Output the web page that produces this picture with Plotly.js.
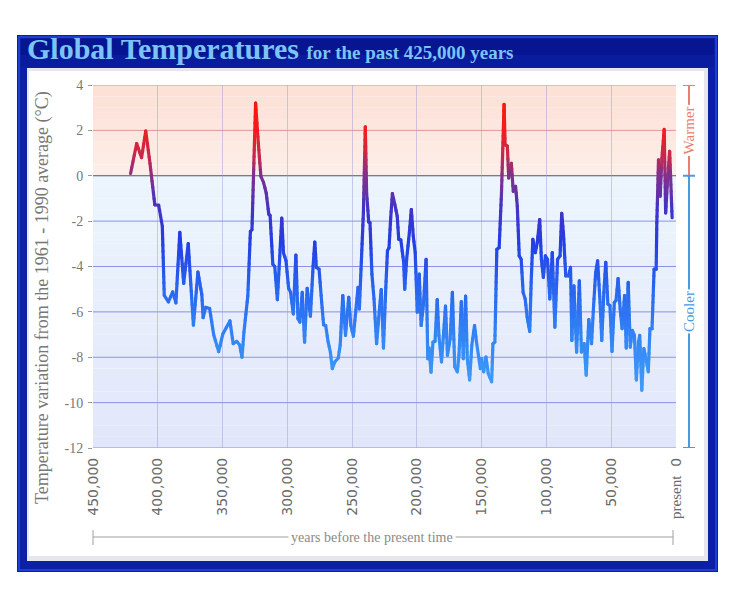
<!DOCTYPE html>
<html>
<head>
<meta charset="utf-8">
<script src="https://cdn.plot.ly/plotly-3.0.1.min.js"></script>
<style>
html,body{margin:0;padding:0;background:#ffffff;}
#chart{width:734px;height:589px;}
.scatterlayer .js-line{stroke-linecap:round;stroke-linejoin:round;}
</style>
</head>
<body>
<div id="chart"></div>
<script>
// ---- data (years before present, temperature anomaly °C) ----
const years = [
421000,416300,412500,409300,406000,402300,399300,396500,395000,391800,388500,386000,383000,380000,376500,372500,369000,366000,365000,363000,360000,356800,353000,349800,344300,341800,339000,336800,335000,333500,330500,328500,327300,324500,
322400,320400,318400,316300,314300,313300,311200,309700,307700,306100,304300,303000,301000,299000,297500,295400,293400,291800,290300,288500,286700,284700,282200,280100,278800,277600,275500,273500,272000,270400,268600,266800,265300,263300,260700,259200,257200,255100,252600,251000,249000,247500,245400,244400,242900,241300,239800,238800,237200,236200,234700,233100,231100,229100,227500,225800,224000,222700,221500,220200,218900,
217000,215200,214000,212400,210200,209400,207900,205800,204300,202800,201300,199700,198200,196700,194900,192900,191600,190600,189100,187600,186000,184300,183000,181000,177900,176400,174300,172600,170800,168800,167500,165700,164200,162400,161100,159300,157600,155500,154000,152500,151000,150000,148400,146700,144900,142300,141300,139800,138300,136500,134700,132700,131900,130200,129100,127100,125600,123800,122500,121000,119500,118000,116400,114900,112900,
111800,110500,108600,107100,105200,103900,102400,100800,99200,97400,95500,93500,91400,89500,88200,86900,85100,83000,81400,80400,78800,76700,74600,73000,70900,69300,67300,65200,63600,62000,60500,58600,57300,55700,54200,52600,51000,49400,47600,46300,44700,43100,41600,39700,38400,36900,35300,33700,32100,30600,29000,28000,26400,24800,23200,21400,20100,18500,16900,15300,14800,13500,12200,10900,9100,8000,6500,4900,3000
];
const temps = [
0.1,1.42,0.8,1.97,0.54,-1.28,-1.3,-2.23,-5.27,-5.56,-5.12,-5.6,-2.5,-4.74,-2.99,-6.58,-4.25,-5.24,-6.25,-5.8,-5.85,-7.02,-7.75,-6.98,-6.4,-7.4,-7.3,-7.46,-8.0,-6.9,-5.3,-2.45,-2.38,3.2,
1.43,-0.03,-0.29,-0.76,-1.7,-1.75,-3.9,-4.0,-5.46,-3.82,-1.87,-3.39,-3.75,-4.96,-5.14,-6.09,-3.5,-6.3,-6.45,-5.14,-7.33,-4.96,-6.19,-3.97,-2.92,-4.04,-4.12,-5.58,-6.57,-6.6,-7.3,-7.77,-8.5,-8.2,-8.03,-7.47,-5.28,-7.04,-5.36,-6.6,-7.07,-6.16,-4.92,-5.87,-3.82,-1.64,2.16,-0.76,-2.04,-2.07,-4.34,-5.43,-7.4,-6.01,-5.02,-7.59,-4.92,-3.3,-3.17,-1.85,-0.79,
-1.27,-1.78,-2.8,-2.83,-3.82,-5.0,-3.68,-2.51,-1.49,-2.66,-3.39,-6.01,-4.34,-6.6,-5.65,-3.68,-8.06,-7.6,-8.66,-7.33,-7.3,-5.46,-7.04,-8.2,-5.75,-7.91,-7.18,-5.14,-8.42,-8.64,-7.91,-5.55,-8.06,-5.31,-8.06,-9.0,-7.47,-6.6,-7.33,-7.91,-8.5,-8.06,-8.64,-7.99,-8.72,-9.08,-7.4,-7.33,-3.24,-3.17,-0.76,3.15,1.36,1.31,-0.1,0.55,-0.69,-0.47,-1.34,-3.53,-3.68,-5.14,-5.43,-6.23,-6.86,
-4.7,-2.8,-3.39,-2.95,-1.93,-3.68,-4.48,-3.53,-3.68,-5.43,-3.39,-6.67,-3.68,-3.53,-1.66,-2.51,-4.41,-4.41,-4.04,-7.26,-4.85,-7.77,-4.63,-7.77,-7.4,-8.79,-6.34,-7.4,-5.72,-4.26,-3.75,-5.58,-7.26,-5.14,-3.82,-5.65,-5.72,-7.74,-5.58,-5.5,-4.53,-5.87,-6.74,-5.28,-7.59,-4.7,-7.55,-6.82,-7.04,-9.0,-7.33,-7.04,-9.45,-7.62,-8.06,-8.64,-6.74,-6.74,-4.12,-4.12,-2.07,0.7,-0.9,0.77,2.04,-1.64,-0.18,1.07,-1.85
];
const xTickVals = [450000,400000,350000,300000,250000,200000,150000,100000,50000,0];
const xTickText = ['450,000','400,000','350,000','300,000','250,000','200,000','150,000','100,000','50,000',
  '<span style="font-family:\'Liberation Serif\',serif;font-size:15px">present</span>  0'];
const yTickVals = [4,2,0,-2,-4,-6,-8,-10,-12];
const yTickText = ['4','2','0','-2','-4','-6','-8','-10','-12'];
const mainTitle = 'Global Temperatures';
const subTitle = 'for the past 425,000 years';
const yTitle = 'Temperature variation from the 1961 - 1990 average (°C)';
const xCaption = 'years before the present time';
const warmLabel = 'Warmer';
const coolLabel = 'Cooler';

// ---- styling helpers ----
const stops = [
  [-10, [70,160,248]],
  [-7.5,[52,138,245]],
  [-5,  [40,102,240]],
  [-3,  [35,62,228]],
  [-1.5,[68,50,198]],
  [0,   [130,48,140]],
  [1,   [200,40,75]],
  [2,   [240,30,30]],
  [3.5, [255,20,10]]
];
function colorAt(t){
  if (t <= stops[0][0]) return 'rgb(' + stops[0][1].join(',') + ')';
  for (let i = 1; i < stops.length; i++){
    if (t <= stops[i][0]){
      const a = (t - stops[i-1][0]) / (stops[i][0] - stops[i-1][0]);
      const c = stops[i-1][1].map((v,k)=>Math.round(v + (stops[i][1][k]-v)*a));
      return 'rgb(' + c.join(',') + ')';
    }
  }
  return 'rgb(' + stops[stops.length-1][1].join(',') + ')';
}

// colour the line by temperature: split each segment into short pieces
const bins = {};
for (let i = 0; i < years.length - 1; i++){
  const x0 = years[i], x1 = years[i+1], t0 = temps[i], t1 = temps[i+1];
  const k = Math.max(1, Math.ceil(Math.abs(t1 - t0) / 0.3));
  for (let j = 0; j < k; j++){
    const a = j / k, b = (j + 1) / k;
    const tm = t0 + (t1 - t0) * (a + b) / 2;
    const key = (Math.round(tm * 4) / 4).toFixed(2);
    if (!bins[key]) bins[key] = {x: [], y: []};
    bins[key].x.push(x0 + (x1 - x0) * a, x0 + (x1 - x0) * b, null);
    bins[key].y.push(t0 + (t1 - t0) * a, t0 + (t1 - t0) * b, null);
  }
}
const traces = Object.keys(bins).map(key => ({
  type: 'scatter', mode: 'lines',
  x: bins[key].x, y: bins[key].y,
  line: {color: colorAt(parseFloat(key)), width: 3.2},
  hoverinfo: 'skip', showlegend: false, connectgaps: false
}));

// ---- geometry helpers (pixel -> paper) ----
const L = 93, R = 676, T = 85, B = 448;
const px = v => (v - L) / (R - L);
const py = v => (B - v) / (B - T);

const shapes = [];
// outer blue frame
shapes.push({type:'rect', xref:'paper', yref:'paper', x0:px(17), x1:px(718), y0:py(572), y1:py(35),
  fillcolor:'#0c20a6', line:{width:0}, layer:'below'});
shapes.push({type:'rect', xref:'paper', yref:'paper', x0:px(19), x1:px(716), y0:py(570), y1:py(37),
  fillcolor:'rgba(0,0,0,0)', line:{color:'#2a48e0', width:1.5}, layer:'below'});
// title band
shapes.push({type:'rect', xref:'paper', yref:'paper', x0:px(21), x1:px(714), y0:py(67), y1:py(39),
  fillcolor:'#0a1c9e', line:{width:0}, layer:'below'});
shapes.push({type:'rect', xref:'paper', yref:'paper', x0:px(21), x1:px(714), y0:py(55), y1:py(39),
  fillcolor:'#071590', line:{width:0}, layer:'below'});
// inner panel
shapes.push({type:'rect', xref:'paper', yref:'paper', x0:px(27), x1:px(708), y0:py(561), y1:py(68),
  fillcolor:'#e6e6ec', line:{width:0}, layer:'below'});
shapes.push({type:'rect', xref:'paper', yref:'paper', x0:px(29), x1:px(704), y0:py(556), y1:py(71),
  fillcolor:'#ffffff', line:{width:0}, layer:'below'});

// plot background bands (warm above 0, cool below)
function mix(c1, c2, a){ return 'rgb(' + c1.map((v,k)=>Math.round(v + (c2[k]-v)*a)).join(',') + ')'; }
for (let v = 0; v < 4; v += 0.5){
  shapes.push({type:'rect', xref:'x', yref:'y', x0:450000, x1:0, y0:v, y1:v+0.5,
    fillcolor: mix([253,238,233],[252,224,214], (v+0.25)/4), line:{width:0}, layer:'below'});
}
for (let v = 0; v > -12; v -= 0.5){
  shapes.push({type:'rect', xref:'x', yref:'y', x0:450000, x1:0, y0:v-0.5, y1:v,
    fillcolor: mix([236,245,253],[226,230,250], (-v+0.25)/12), line:{width:0}, layer:'below'});
}
// horizontal grid lines
yTickVals.forEach(v => {
  if (v === 0) return;
  shapes.push({type:'line', xref:'x', yref:'y', x0:450000, x1:0, y0:v, y1:v,
    line:{color: v > 0 ? 'rgba(215,120,120,0.75)' : 'rgba(95,105,225,0.7)', width:1}, layer:'below'});
});
// zero line
shapes.push({type:'line', xref:'x', yref:'y', x0:450000, x1:0, y0:0, y1:0,
  line:{color:'#555555', width:1.2}, layer:'below'});

// warmer / cooler brackets
const bx = px(689), bc0 = px(683), bc1 = px(695);
shapes.push({type:'line', xref:'paper', yref:'y', x0:bx, x1:bx, y0:4, y1:0, line:{color:'#e8806c', width:2}});
shapes.push({type:'line', xref:'paper', yref:'y', x0:bc0, x1:bc1, y0:4, y1:4, line:{color:'#e8806c', width:2}});
shapes.push({type:'line', xref:'paper', yref:'y', x0:bx, x1:bx, y0:0, y1:-12, line:{color:'#4a9ae2', width:2}});
shapes.push({type:'line', xref:'paper', yref:'y', x0:bc0, x1:bc1, y0:0, y1:0, line:{color:'#4a9ae2', width:2}});
shapes.push({type:'line', xref:'paper', yref:'y', x0:bc0, x1:bc1, y0:-12, y1:-12, line:{color:'#4a9ae2', width:2}});
// x caption bracket
shapes.push({type:'line', xref:'paper', yref:'paper', x0:px(93), x1:px(673), y0:py(537), y1:py(537), line:{color:'#a0a0a0', width:1}});
shapes.push({type:'line', xref:'paper', yref:'paper', x0:px(93), x1:px(93), y0:py(530), y1:py(545), line:{color:'#a0a0a0', width:1}});
shapes.push({type:'line', xref:'paper', yref:'paper', x0:px(673), x1:px(673), y0:py(530), y1:py(545), line:{color:'#a0a0a0', width:1}});

const annotations = [
  {xref:'paper', yref:'paper', x:px(42), y:py(298), text:yTitle, textangle:-90, showarrow:false,
   font:{family:'Liberation Serif, serif', size:18, color:'#777777'}, xanchor:'center', yanchor:'middle'},
  {xref:'paper', yref:'paper', x:px(372), y:py(537), text:xCaption, showarrow:false, bgcolor:'#ffffff',
   borderpad:2, font:{family:'Liberation Serif, serif', size:14, color:'#8a8a8a'}, xanchor:'center', yanchor:'middle'},
  {xref:'paper', yref:'y', x:bx, y:2, text:warmLabel, textangle:-90, showarrow:false, bgcolor:'#ffffff',
   borderpad:1, font:{family:'Liberation Serif, serif', size:15, color:'#e8806c'}, xanchor:'center', yanchor:'middle'},
  {xref:'paper', yref:'y', x:bx, y:-6, text:coolLabel, textangle:-90, showarrow:false, bgcolor:'#ffffff',
   borderpad:1, font:{family:'Liberation Serif, serif', size:15, color:'#4a9ae2'}, xanchor:'center', yanchor:'middle'}
];

const layout = {
  width: 734, height: 589,
  margin: {l: L, r: 734 - R, t: T, b: 589 - B, pad: 0},
  paper_bgcolor: '#ffffff', plot_bgcolor: 'rgba(0,0,0,0)',
  showlegend: false,
  title: {
    text: '<b>' + mainTitle + '</b> <b><span style="font-size:19px">' + subTitle + '</span></b>',
    font: {family: 'Liberation Serif, serif', size: 30, color: '#7cc4f6'},
    x: 27/734, xanchor: 'left', xref: 'container',
    y: 1 - 48/589, yanchor: 'middle', yref: 'container'
  },
  xaxis: {
    range: [450000, 0], autorange: false,
    tickvals: xTickVals, ticktext: xTickText, tickangle: -90,
    tickfont: {family: 'DejaVu Sans, sans-serif', size: 14, color: '#6a6a6a'},
    showgrid: true, gridcolor: 'rgba(150,150,215,0.45)', gridwidth: 1,
    zeroline: false, showline: false, ticks: '', ticklabelstandoff: 6
  },
  yaxis: {
    range: [-12, 4], autorange: false,
    tickvals: yTickVals, ticktext: yTickText,
    tickfont: {family: 'Liberation Serif, serif', size: 14, color: '#777777'},
    showgrid: false, zeroline: false, showline: false,
    ticks: 'outside', ticklen: 4, tickcolor: '#999999', tickwidth: 1,
    ticklabelstandoff: 2
  },
  shapes: shapes,
  annotations: annotations
};

Plotly.newPlot('chart', traces, layout, {displayModeBar: false, staticPlot: true});
</script>
</body>
</html>
